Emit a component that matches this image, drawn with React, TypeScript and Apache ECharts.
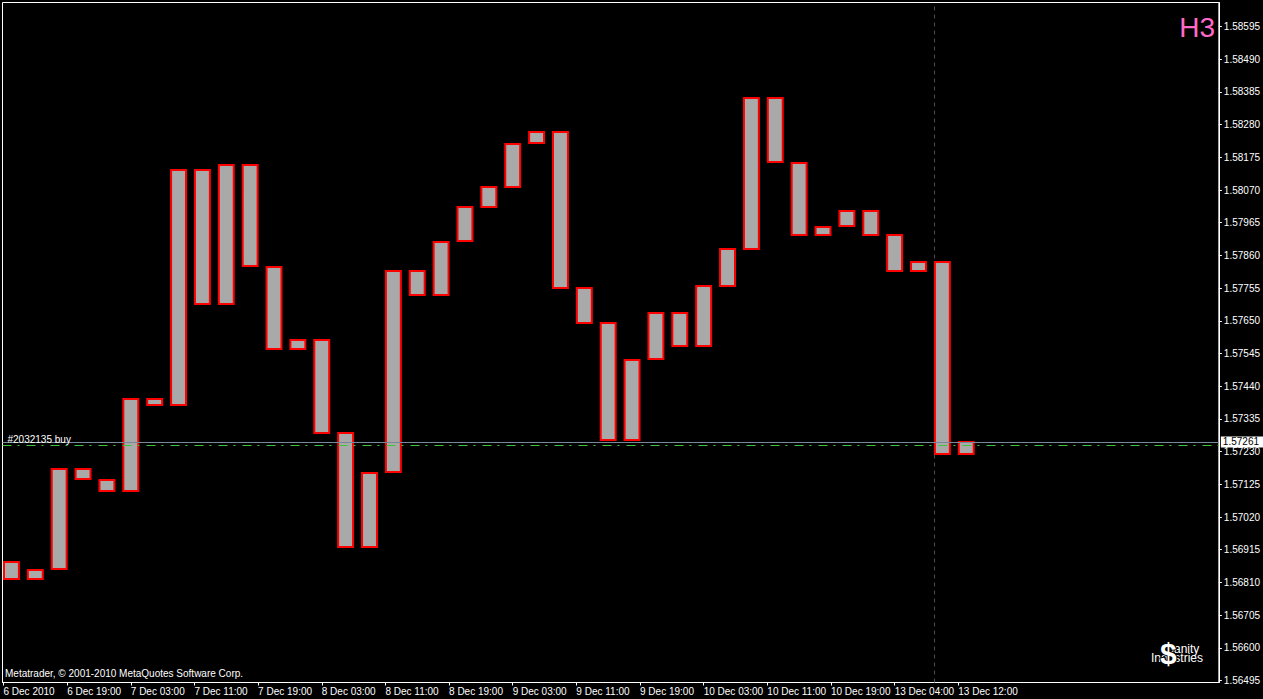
import React, { useEffect, useRef } from "react";
import * as echarts from "echarts";

// H3 candle bodies (open / close), one per 3-hour bar
const opens = [
  1.56876, 1.5682, 1.56852, 1.57173, 1.5714, 1.57103, 1.574, 1.57379, 1.58135, 1.57703,
  1.58151, 1.57824, 1.57559, 1.57589, 1.57289, 1.56924, 1.57164, 1.57809, 1.57733, 1.57906,
  1.58017, 1.58081, 1.5822, 1.58257, 1.57754, 1.57642, 1.57267, 1.57527, 1.57676, 1.57568,
  1.57763, 1.57882, 1.58367, 1.58158, 1.57925, 1.57953, 1.58001, 1.57924, 1.57809, 1.57839,
  1.57222,
];
const closes = [
  1.5682, 1.5685, 1.57173, 1.57141, 1.57103, 1.574, 1.57379, 1.58135, 1.57703, 1.58151,
  1.57825, 1.57559, 1.57589, 1.57291, 1.56924, 1.57162, 1.57809, 1.57733, 1.57904, 1.58015,
  1.58079, 1.58218, 1.58257, 1.57755, 1.57644, 1.57267, 1.57525, 1.57676, 1.57568, 1.57762,
  1.57881, 1.58367, 1.58159, 1.57925, 1.57952, 1.58001, 1.57925, 1.57809, 1.57839, 1.57222,
  1.57261,
];

const yTickLabels = [
  "1.56495", "1.56600", "1.56705", "1.56810", "1.56915", "1.57020", "1.57125",
  "1.57230", "1.57335", "1.57440", "1.57545", "1.57650", "1.57755", "1.57860",
  "1.57965", "1.58070", "1.58175", "1.58280", "1.58385", "1.58490", "1.58595",
];

const xTickLabels = [
  "6 Dec 2010", "6 Dec 19:00", "7 Dec 03:00", "7 Dec 11:00", "7 Dec 19:00",
  "8 Dec 03:00", "8 Dec 11:00", "8 Dec 19:00", "9 Dec 03:00", "9 Dec 11:00",
  "9 Dec 19:00", "10 Dec 03:00", "10 Dec 11:00", "10 Dec 19:00", "13 Dec 04:00",
  "13 Dec 12:00",
];

const bidPrice = 1.57261;
const orderPrice = 1.57249;
const orderLabel = "#2032135 buy";
const separatorAt = 38.667; // bar units

const FONT = '"Liberation Sans", Arial, sans-serif';

export default function App() {
  const ref = useRef<HTMLDivElement>(null);
  useEffect(() => {
    document.body.style.margin = "0";
    document.body.style.background = "#000";
    const chart = echarts.init(ref.current!, null, { renderer: "svg" });

    const yTickValues = yTickLabels.map((s) => parseFloat(s));
    // a bar every 3 hours, a time label every 8 hours
    const xTickValues = xTickLabels.map((_, k) => (8 * k - 1) / 3);
    const data = opens.map((o, i) => [i, o, closes[i]]);
    const closeLine = closes.map((c, i) => [i, c]);

    const hiddenLine = {
      type: "line",
      data: closeLine,
      showSymbol: false,
      symbol: "none",
      silent: true,
      lineStyle: { opacity: 0, width: 0 },
      tooltip: { show: false },
    };

    const option: any = {
      animation: false,
      backgroundColor: "#000",
      textStyle: { fontFamily: FONT },
      grid: {
        left: 2.5,
        top: 2.5,
        right: 37.5,
        bottom: 16.5,
        show: true,
        borderColor: "#ffffff",
        borderWidth: 1,
        backgroundColor: "#000",
      },
      xAxis: {
        type: "value",
        min: -0.375,
        max: 50.5833,
        axisLine: { show: true, onZero: false, lineStyle: { color: "#fff", width: 1 } },
        axisTick: {
          show: true,
          length: 3,
          customValues: xTickValues,
          lineStyle: { color: "#fff" },
        },
        axisLabel: {
          customValues: xTickValues,
          color: "#fff",
          fontSize: 10,
          fontFamily: FONT,
          align: "left",
          margin: 4,
          formatter: (v: number) => {
            const k = xTickValues.findIndex((t) => Math.abs(t - v) < 1e-6);
            return k >= 0 ? xTickLabels[k] : "";
          },
        },
        splitLine: { show: false },
      },
      yAxis: {
        type: "value",
        position: "right",
        min: 1.564886,
        max: 1.586721,
        axisLine: { show: true, onZero: false, lineStyle: { color: "#fff", width: 1 } },
        axisTick: {
          show: true,
          length: 3,
          customValues: yTickValues,
          lineStyle: { color: "#fff" },
        },
        axisLabel: {
          customValues: yTickValues,
          color: "#fff",
          fontSize: 10,
          fontFamily: FONT,
          margin: 5,
          formatter: (v: number) => v.toFixed(5),
        },
        splitLine: { show: false },
      },
      series: [
        {
          ...hiddenLine,
          z: 1,
          markLine: {
            silent: true,
            z: 1,
            precision: 5,
            symbol: ["none", "none"],
            label: { show: false },
            lineStyle: { color: "#3f5250", width: 1, type: [4, 4] },
            data: [{ xAxis: separatorAt }],
          },
        },
        {
          type: "custom",
          z: 2,
          data,
          encode: { x: 0, y: [1, 2] },
          renderItem: (params: any, api: any) => {
            const i = api.value(0);
            const o = api.value(1);
            const c = api.value(2);
            const top = api.coord([i, Math.max(o, c)]);
            const bot = api.coord([i, Math.min(o, c)]);
            const w = api.size([1, 0])[0] * 0.625;
            const y = Math.round(top[1]);
            const h = Math.max(Math.round(bot[1]) - y, 1);
            return {
              type: "rect",
              shape: { x: top[0] - w / 2, y, width: w, height: h },
              style: { fill: "#a9a9a9", stroke: "#ff0000", lineWidth: 2 },
            };
          },
        },
        {
          ...hiddenLine,
          z: 5,
          markLine: {
            silent: true,
            z: 6,
            precision: 5,
            symbol: ["none", "none"],
            data: [
              {
                yAxis: bidPrice,
                lineStyle: { color: "#778899", width: 1, type: "solid" },
                label: {
                  show: true,
                  position: "end",
                  formatter: bidPrice.toFixed(5),
                  color: "#000",
                  backgroundColor: "#fff",
                  fontSize: 10,
                  fontFamily: FONT,
                  padding: [1, 4, 0, 2],
                  distance: 2,
                },
              },
              {
                yAxis: orderPrice,
                lineStyle: { color: "#3ec43e", width: 1, type: [9, 6, 2, 7] },
                label: {
                  show: true,
                  position: "insideStartTop",
                  formatter: orderLabel,
                  color: "#fff",
                  fontSize: 10,
                  fontFamily: FONT,
                  distance: [5, 1],
                },
              },
            ],
          },
        },
      ],
      graphic: [
        {
          type: "text",
          right: 48,
          top: 13,
          style: { text: "H3", fill: "#ff69c8", font: `28px ${FONT}` },
        },
        {
          type: "text",
          left: 5,
          top: 668,
          style: {
            text: "Metatrader, © 2001-2010 MetaQuotes Software Corp.",
            fill: "#fff",
            font: `10px ${FONT}`,
          },
        },
        {
          type: "text",
          left: 1166,
          top: 643,
          style: { text: "Sanity", fill: "#fff", font: `12px ${FONT}` },
        },
        {
          type: "text",
          left: 1151,
          top: 652,
          style: { text: "Industries", fill: "#fff", font: `12px ${FONT}` },
        },
        {
          type: "text",
          left: 1159,
          top: 637,
          style: {
            text: "$",
            fill: "#fff",
            font: `bold 30px ${FONT}`,
            stroke: "#000",
            lineWidth: 2,
          },
        },
      ],
    };

    chart.setOption(option);
    return () => chart.dispose();
  }, []);
  return (
    <div
      ref={ref}
      style={{ position: "fixed", left: 0, top: 0, width: 1263, height: 699 }}
    />
  );
}
